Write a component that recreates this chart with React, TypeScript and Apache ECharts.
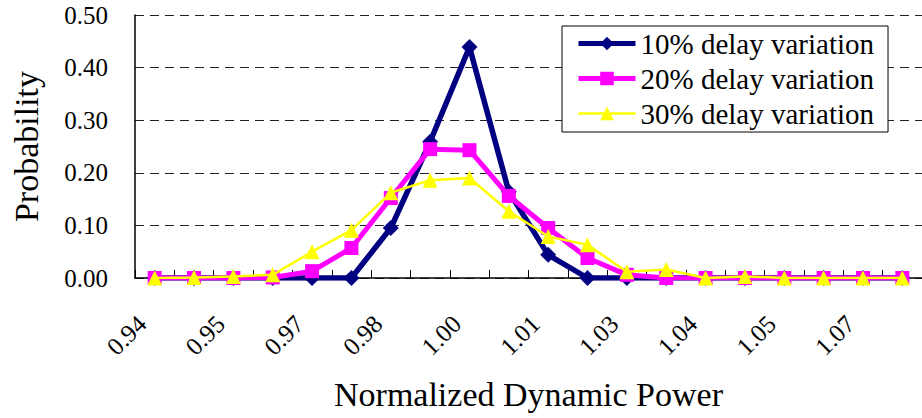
import React, { useEffect, useRef } from "react";
import * as echarts from "echarts";

const categories = [
  "0.94", "0.947", "0.95", "0.962", "0.97", "0.977", "0.98", "0.991", "1.00", "1.006",
  "1.01", "1.020", "1.03", "1.035", "1.04", "1.049", "1.05", "1.064", "1.07", "1.078",
];
const delay10 = [0, 0, 0, 0, 0, 0, 0.095, 0.259, 0.439, 0.164, 0.044, 0, 0, 0, 0, 0, 0, 0, 0, 0];
const delay20 = [0, 0, 0, 0.001, 0.013, 0.057, 0.152, 0.245, 0.243, 0.156, 0.095, 0.038, 0.006, 0, 0, 0, 0, 0, 0, 0];
const delay30 = [0, 0.001, 0.003, 0.006, 0.05, 0.091, 0.162, 0.186, 0.19, 0.127, 0.079, 0.063, 0.012, 0.016, 0, 0.003, 0, 0, 0, 0];
const seriesNames = ["10% delay variation", "20% delay variation", "30% delay variation"];

const FONT = "Liberation Serif";

export default function App() {
  const ref = useRef<HTMLDivElement>(null);
  useEffect(() => {
    if (!ref.current) return;
    const chart = echarts.init(ref.current, null, { renderer: "svg" });
    chart.setOption({
      animation: false,
      backgroundColor: "#ffffff",
      textStyle: { fontFamily: FONT },
      grid: { left: 135, right: -3, top: 15, bottom: 140, containLabel: false },
      legend: {
        orient: "vertical",
        left: 562,
        top: 26,
        padding: [3, 14, 4, 14],
        itemGap: 6,
        itemWidth: 57,
        itemHeight: 17,
        backgroundColor: "#ffffff",
        borderColor: "#000000",
        borderWidth: 1,
        borderRadius: 0,
        textStyle: { fontFamily: FONT, fontSize: 29, color: "#000000" },
        data: [
          { name: seriesNames[0], lineStyle: { width: 5 } },
          { name: seriesNames[1], lineStyle: { width: 5 } },
          { name: seriesNames[2], lineStyle: { width: 2.5 } },
        ],
      },
      xAxis: {
        type: "category",
        data: categories,
        boundaryGap: true,
        name: "Normalized Dynamic Power",
        nameLocation: "middle",
        nameGap: 99,
        nameTextStyle: { fontFamily: FONT, fontSize: 34, color: "#000000" },
        axisLine: { show: true, lineStyle: { color: "#000000", width: 1.5 } },
        axisTick: { show: true, inside: true, length: 8, interval: 0, lineStyle: { color: "#000000", width: 1 } },
        axisLabel: {
          interval: 1,
          rotate: 45,
          margin: 29,
          padding: [0, 18, 0, 0],
          fontFamily: FONT,
          fontSize: 25,
          color: "#000000",
        },
        splitLine: { show: false },
      },
      yAxis: {
        type: "value",
        min: 0,
        max: 0.5,
        interval: 0.1,
        name: "Probability",
        nameLocation: "middle",
        nameGap: 92,
        nameTextStyle: { fontFamily: FONT, fontSize: 34, color: "#000000" },
        axisLine: { show: true, lineStyle: { color: "#000000", width: 1.5 } },
        axisTick: { show: false },
        axisLabel: {
          margin: 27,
          fontFamily: FONT,
          fontSize: 25,
          color: "#000000",
          formatter: (v: number) => v.toFixed(2),
        },
        splitLine: { show: true, lineStyle: { color: "#222222", width: 1, type: [9, 6] } },
      },
      series: [
        {
          name: seriesNames[0],
          type: "line",
          data: delay10,
          symbol: "diamond",
          symbolSize: 16,
          lineStyle: { color: "#000080", width: 5.5 },
          itemStyle: { color: "#000080" },
          z: 2,
        },
        {
          name: seriesNames[1],
          type: "line",
          data: delay20,
          symbol: "rect",
          symbolSize: 14,
          lineStyle: { color: "#ff00ff", width: 5 },
          itemStyle: { color: "#ff00ff" },
          z: 3,
        },
        {
          name: seriesNames[2],
          type: "line",
          data: delay30,
          symbol: "triangle",
          symbolSize: 15,
          lineStyle: { color: "#ffff00", width: 2.5 },
          itemStyle: { color: "#ffff00" },
          z: 4,
        },
      ],
    });
    return () => chart.dispose();
  }, []);
  return (
    <div
      ref={ref}
      style={{ position: "fixed", left: 0, top: 0, width: 922, height: 418, background: "#fff" }}
    />
  );
}
